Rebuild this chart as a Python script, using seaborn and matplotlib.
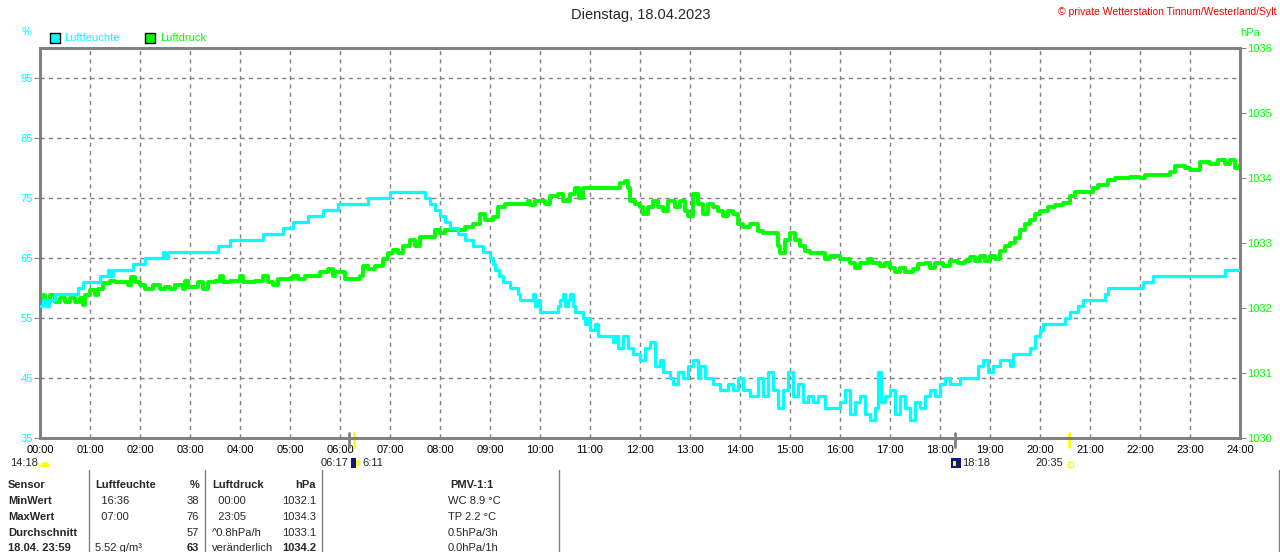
import numpy as np
import pandas as pd
import seaborn as sns
import matplotlib.pyplot as plt
from matplotlib.patches import Rectangle, Wedge
from matplotlib.lines import Line2D
from matplotlib.transforms import IdentityTransform

# humidity (%), step breakpoints
hum_time = [0.0, 0.05, 0.12, 0.17, 0.3, 0.76, 0.85, 1.2, 1.35, 1.4, 1.45, 1.85, 2.1, 2.45, 2.5, 2.55,
            3.55, 3.8, 4.45, 4.85, 5.05, 5.35, 5.65, 5.95, 6.55, 7.0, 7.7, 7.8, 7.9, 8.0, 8.1, 8.2,
            8.35, 8.5, 8.65, 8.85, 9.0, 9.05, 9.1, 9.17, 9.25, 9.4, 9.55, 9.6, 9.85, 9.9, 9.95, 10.0,
            10.35, 10.4, 10.45, 10.5, 10.55, 10.6, 10.65, 10.7, 10.85, 10.9, 10.95, 11.0, 11.1, 11.15,
            11.45, 11.5, 11.55, 11.65, 11.75, 11.85, 12.0, 12.1, 12.2, 12.3, 12.4, 12.45, 12.6, 12.65,
            12.75, 12.85, 12.95, 13.05, 13.15, 13.2, 13.3, 13.45, 13.6, 13.75, 13.85, 13.95, 14.05,
            14.2, 14.35, 14.45, 14.55, 14.65, 14.75, 14.85, 14.95, 15.05, 15.15, 15.25, 15.35, 15.45,
            15.55, 15.7, 16.0, 16.1, 16.2, 16.3, 16.4, 16.5, 16.6, 16.7, 16.75, 16.82, 16.9, 17.0,
            17.1, 17.2, 17.3, 17.4, 17.5, 17.6, 17.7, 17.8, 17.9, 18.0, 18.1, 18.2, 18.4, 18.6,
            18.75, 18.85, 18.95, 19.05, 19.2, 19.4, 19.45, 19.8, 19.9, 20.0, 20.05, 20.5, 20.6,
            20.75, 20.85, 21.3, 21.35, 22.05, 22.25, 23.7, 24.0]
hum_value = [57, 58, 57, 58, 59, 60, 61, 62, 63, 62, 63, 64, 65, 66, 65, 66,
             67, 68, 69, 70, 71, 72, 73, 74, 75, 76, 75, 74, 73, 72, 71, 70,
             69, 68, 67, 66, 65, 64, 63, 62, 61, 60, 59, 58, 59, 57, 58, 56,
             57, 58, 59, 57, 58, 59, 57, 56, 55, 54, 55, 53, 54, 52,
             51, 52, 50, 52, 50, 49, 48, 50, 51, 47, 48, 46, 45, 44,
             46, 45, 47, 48, 45, 47, 45, 44, 43, 44, 43, 45, 43,
             42, 45, 42, 46, 43, 40, 43, 46, 42, 44, 41, 42, 41,
             42, 40, 41, 43, 39, 41, 42, 39, 38, 40, 46, 41, 42, 43,
             39, 42, 40, 38, 41, 40, 42, 43, 42, 44, 45, 44, 45, 45,
             47, 48, 46, 47, 48, 47, 49, 50, 52, 53, 54, 55, 56,
             57, 58, 59, 60, 61, 62, 63, 63]

# pressure (hPa), step breakpoints
pres_time = [0.0, 0.05, 0.1, 0.2, 0.3, 0.4, 0.5, 0.6, 0.7, 0.8, 0.85, 0.9, 1.0, 1.1, 1.15, 1.25,
             1.4, 1.5, 1.75, 1.82, 1.9, 2.0, 2.1, 2.25, 2.4, 2.5, 2.6, 2.7, 2.85, 2.9, 2.95, 3.15,
             3.25, 3.35, 3.5, 3.6, 3.65, 3.8, 4.0, 4.05, 4.3, 4.45, 4.55, 4.65, 4.75, 4.9, 5.05,
             5.15, 5.3, 5.5, 5.6, 5.75, 5.85, 5.9, 6.1, 6.4, 6.45, 6.55, 6.7, 6.85, 6.95, 7.05,
             7.15, 7.25, 7.4, 7.5, 7.6, 7.75, 7.9, 8.0, 8.1, 8.25, 8.5, 8.65, 8.8, 8.9, 9.05, 9.15,
             9.3, 9.6, 9.75, 9.8, 9.9, 10.1, 10.2, 10.35, 10.45, 10.6, 10.7, 10.78, 10.85, 11.0,
             11.3, 11.5, 11.6, 11.7, 11.75, 11.8, 11.9, 12.0, 12.05, 12.15, 12.25, 12.35, 12.45,
             12.55, 12.7, 12.8, 12.9, 12.95, 13.05, 13.15, 13.25, 13.35, 13.45, 13.55, 13.65,
             13.75, 13.85, 13.95, 14.05, 14.2, 14.35, 14.45, 14.65, 14.75, 14.8, 14.9, 15.0, 15.1,
             15.2, 15.3, 15.4, 15.6, 15.7, 15.8, 16.0, 16.2, 16.3, 16.4, 16.55, 16.65, 16.8, 16.9,
             17.0, 17.1, 17.2, 17.3, 17.45, 17.55, 17.7, 17.8, 17.9, 18.05, 18.2, 18.35, 18.5,
             18.6, 18.7, 18.8, 18.9, 19.0, 19.1, 19.2, 19.3, 19.4, 19.5, 19.6, 19.7, 19.8, 19.9,
             20.0, 20.15, 20.3, 20.45, 20.6, 20.7, 20.9, 21.05, 21.15, 21.35, 21.5, 21.8, 22.0,
             22.1, 22.4, 22.6, 22.7, 22.9, 23.0, 23.2, 23.4, 23.55, 23.7, 23.8, 23.9, 24.0]
pres_value = [1032.15, 1032.2, 1032.1, 1032.2, 1032.1, 1032.15, 1032.1, 1032.15, 1032.1, 1032.15,
              1032.05, 1032.2, 1032.28, 1032.2, 1032.3, 1032.38, 1032.42, 1032.4, 1032.35, 1032.48,
              1032.4, 1032.35, 1032.3, 1032.35, 1032.3, 1032.33, 1032.3, 1032.35, 1032.3, 1032.42,
              1032.33, 1032.4, 1032.3, 1032.4, 1032.42, 1032.5, 1032.4, 1032.42, 1032.5, 1032.4,
              1032.42, 1032.5, 1032.4, 1032.35, 1032.45, 1032.45, 1032.5, 1032.45, 1032.5, 1032.5,
              1032.55, 1032.6, 1032.5, 1032.55, 1032.45, 1032.5, 1032.65, 1032.6, 1032.65, 1032.75,
              1032.85, 1032.9, 1032.85, 1032.95, 1033.05, 1032.95, 1033.1, 1033.1, 1033.2, 1033.15,
              1033.2, 1033.2, 1033.25, 1033.3, 1033.45, 1033.35, 1033.4, 1033.55, 1033.6, 1033.6,
              1033.65, 1033.58, 1033.65, 1033.6, 1033.72, 1033.75, 1033.65, 1033.75, 1033.85,
              1033.7, 1033.85, 1033.85, 1033.85, 1033.85, 1033.92, 1033.95, 1033.85, 1033.65,
              1033.6, 1033.55, 1033.45, 1033.55, 1033.65, 1033.55, 1033.5, 1033.65, 1033.55,
              1033.65, 1033.5, 1033.42, 1033.75, 1033.6, 1033.45, 1033.6, 1033.55, 1033.5, 1033.42,
              1033.5, 1033.45, 1033.3, 1033.25, 1033.3, 1033.18, 1033.15, 1033.15, 1032.95, 1032.85,
              1033.05, 1033.15, 1033.05, 1032.95, 1032.88, 1032.85, 1032.85, 1032.75, 1032.8,
              1032.75, 1032.7, 1032.62, 1032.7, 1032.75, 1032.7, 1032.65, 1032.7, 1032.62, 1032.55,
              1032.62, 1032.55, 1032.6, 1032.68, 1032.7, 1032.62, 1032.7, 1032.65, 1032.72, 1032.7,
              1032.72, 1032.78, 1032.72, 1032.8, 1032.72, 1032.8, 1032.75, 1032.88, 1032.95, 1033.0,
              1033.08, 1033.2, 1033.3, 1033.35, 1033.45, 1033.5, 1033.55, 1033.58, 1033.62, 1033.72,
              1033.78, 1033.78, 1033.85, 1033.9, 1033.97, 1034.0, 1034.02, 1034.0, 1034.05, 1034.05,
              1034.1, 1034.18, 1034.15, 1034.12, 1034.25, 1034.22, 1034.27, 1034.22, 1034.27,
              1034.15, 1034.2]

hour_labels = ["%02d:00" % h for h in range(25)]
hum_ticks = [35, 45, 55, 65, 75, 85, 95]
pres_ticks = [1030, 1031, 1032, 1033, 1034, 1035, 1036]

table_rows = [
    ["Sensor", "Luftfeuchte", "%", "Luftdruck", "hPa", "PMV-1:1"],
    ["MinWert", "  16:36", "38", "  00:00", "1032.1", "WC 8.9 °C"],
    ["MaxWert", "  07:00", "76", "  23:05", "1034.3", "TP 2.2 °C"],
    ["Durchschnitt", "", "57", "^0.8hPa/h", "1033.1", "0.5hPa/3h"],
    ["18.04. 23:59", "5.52 g/m³", "63", "veränderlich", "1034.2", "0.0hPa/1h"],
]

CYAN = "#00ffff"
GREEN = "#00ff00"
GREY = "#808080"

sns.set_style("white")
plt.rcParams["font.family"] = ["Liberation Sans", "DejaVu Sans"]

W, H = 1280, 552
fig = plt.figure(figsize=(W / 100, H / 100), dpi=100)


def fx(px):
    return px / W


def fy(py):
    return 1 - py / H


ax = fig.add_axes([fx(40), fy(438), fx(1200), 390 / H])
ax2 = ax.twinx()
ax3 = ax.twinx()

# grid on bottom axes
ax.set_xlim(0, 24)
ax.set_ylim(35, 100)
ax.set_xticks(range(25))
ax.set_xticklabels(hour_labels)
ax.set_yticks(hum_ticks)
ax.grid(True, color=GREY, linestyle=(0, (3, 3)), linewidth=1)
ax.tick_params(axis="x", length=3, color=GREY, labelsize=8, labelcolor="black", pad=2)
ax.tick_params(axis="y", length=4, color=GREY, labelsize=8, labelcolor=CYAN, pad=1)

sns.lineplot(x=pres_time, y=pres_value, ax=ax2, color=GREEN, linewidth=2.8,
             drawstyle="steps-post", estimator=None, sort=False)
ax2.set_ylim(1030, 1036)
ax2.set_yticks(pres_ticks)
ax2.tick_params(axis="y", length=4, color=GREY, labelsize=8, labelcolor=GREEN, pad=1)

sns.lineplot(x=hum_time, y=hum_value, ax=ax3, color=CYAN, linewidth=2.3,
             drawstyle="steps-post", estimator=None, sort=False)
ax3.set_ylim(35, 100)
ax3.set_xlim(0, 24)
ax2.set_xlim(0, 24)
ax3.set_yticks([])
ax3.set_ylabel("")
ax2.set_ylabel("")

for a in (ax, ax2):
    for s in a.spines.values():
        s.set_color(GREY)
        s.set_linewidth(2)
for s in ax3.spines.values():
    s.set_visible(False)

# sunrise / sunset / moon markers on the time axis
for t, c in [(6.18, GREY), (6.28, "#ffff00"), (18.3, GREY), (20.58, "#ffff00")]:
    ax.axvline(t, ymin=-0.022, ymax=0.012, color=c, linewidth=2, clip_on=False)

# header texts
fig.text(fx(641), fy(15), "Dienstag, 18.04.2023", ha="center", va="center", fontsize=10.5)
fig.text(fx(1277), fy(12), "© private Wetterstation Tinnum/Westerland/Sylt", ha="right",
         va="center", fontsize=7.5, color="red")
fig.text(fx(27), fy(32), "%", ha="center", va="center", fontsize=8, color=CYAN)
fig.text(fx(1250), fy(33), "hPa", ha="center", va="center", fontsize=8, color=GREEN)

fig.add_artist(Rectangle((fx(50), fy(43)), fx(10), 10 / H, transform=fig.transFigure,
                         facecolor=CYAN, edgecolor="black", linewidth=1))
fig.text(fx(64), fy(38), "Luftfeuchte", va="center", fontsize=8, color=CYAN)
fig.add_artist(Rectangle((fx(145), fy(43)), fx(10), 10 / H, transform=fig.transFigure,
                         facecolor=GREEN, edgecolor="black", linewidth=1))
fig.text(fx(160), fy(38), "Luftdruck", va="center", fontsize=8, color=GREEN)

# sun / moon times under the axis
fig.text(fx(10), fy(463), "14:18", va="center", fontsize=8)
fig.add_artist(Wedge((45, H - 467), 5, 0, 180, transform=IdentityTransform(),
                     facecolor="#ffff00", edgecolor="none"))
fig.text(fx(348), fy(463), "06:17", ha="right", va="center", fontsize=8)
fig.add_artist(Rectangle((fx(351), fy(468)), fx(5), 10 / H, transform=fig.transFigure,
                         facecolor="#101880", edgecolor="none"))
fig.add_artist(Rectangle((fx(356), fy(466)), fx(4), 6 / H, transform=fig.transFigure,
                         facecolor="#ffff00", edgecolor="none"))
fig.text(fx(362), fy(463), "6:11", va="center", fontsize=8)
fig.add_artist(Rectangle((fx(951), fy(468)), fx(10), 10 / H, transform=fig.transFigure,
                         facecolor="#101880", edgecolor="none"))
fig.add_artist(Rectangle((fx(953), fy(466)), fx(3), 5 / H, transform=fig.transFigure,
                         facecolor="#ffff00", edgecolor="none"))
fig.text(fx(962), fy(463), "18:18", va="center", fontsize=8)
fig.text(fx(1063), fy(463), "20:35", ha="right", va="center", fontsize=8)
fig.add_artist(Rectangle((fx(1068), fy(467)), fx(5), 5 / H, transform=fig.transFigure,
                         facecolor="none", edgecolor="#ffff00", linewidth=1))

# table
for xs in [89, 205, 322, 559, 1279]:
    fig.add_artist(Line2D([fx(xs), fx(xs)], [fy(470), fy(552)], transform=fig.transFigure,
                          color=GREY, linewidth=1))

row_y = [485, 501, 517, 533, 548]
col_x = [8, 95, 199, 212, 316, 448]
col_ha = ["left", "left", "right", "left", "right", "left"]
for r, row in enumerate(table_rows):
    for c, txt in enumerate(row):
        bold = r == 0 or c == 0 or (r == 4 and c in (2, 4))
        x = col_x[c]
        ha = col_ha[c]
        if r == 0 and c == 5:
            x, ha = 472, "center"
        fig.text(fx(x), fy(row_y[r]), txt, ha=ha, va="center", fontsize=8,
                 fontweight="bold" if bold else "normal")

fig.savefig("out.png", dpi=100, facecolor="white")
